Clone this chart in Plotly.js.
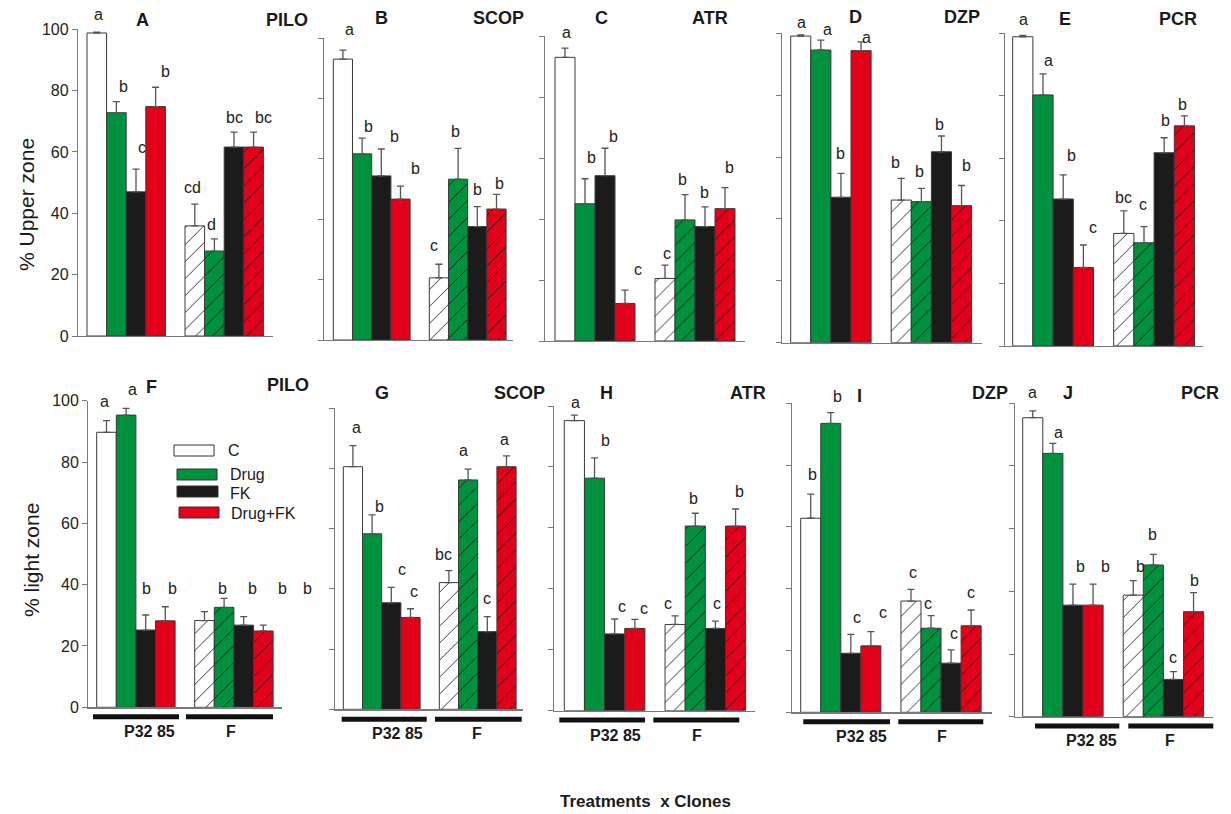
<!DOCTYPE html>
<html><head><meta charset="utf-8">
<script src="https://cdn.plot.ly/plotly-3.0.1.min.js"></script>
<style>html,body{margin:0;padding:0;background:#fff}#chart{width:1231px;height:814px}</style>
</head><body><div id="chart"></div>
<script>
// ================= DATA =================
const treatments = ['C', 'Drug', 'FK', 'Drug+FK'];
const clones = ['P32 85', 'F'];
const drugs = ['PILO', 'SCOP', 'ATR', 'DZP', 'PCR'];
const upperLabels = ['A', 'B', 'C', 'D', 'E'];
const lightLabels = ['F', 'G', 'H', 'I', 'J'];
const yTickVals = [0, 20, 40, 60, 80, 100];
const upperTitle = '% Upper zone';
const lightTitle = '% light zone';
const xTitle = 'Treatments  x Clones';

// order of each array: P32 85 (C, Drug, FK, Drug+FK), then F (C, Drug, FK, Drug+FK)
// % Upper zone
const upperPILO_mean = [98.8, 72.8, 47.0, 74.8, 35.9, 27.7, 61.6, 61.6];
const upperPILO_err  = [0.3, 3.6, 7.4, 6.3, 7.1, 4.0, 4.9, 4.9];
const upperPILO_sig  = ['a', 'b', 'c', 'b', 'cd', 'd', 'bc', 'bc'];
const upperSCOP_mean = [93.1, 61.7, 54.4, 46.7, 20.6, 53.3, 37.6, 43.4];
const upperSCOP_err  = [3.0, 5.2, 8.9, 4.3, 4.5, 10.2, 6.6, 4.9];
const upperSCOP_sig  = ['a', 'b', 'b', 'b', 'c', 'b', 'b', 'b'];
const upperATR_mean  = [93.0, 45.0, 54.2, 12.3, 20.5, 39.7, 37.5, 43.4];
const upperATR_err   = [3.0, 8.2, 9.0, 4.4, 4.4, 8.3, 6.5, 6.9];
const upperATR_sig   = ['a', 'b', 'b', 'c', 'c', 'b', 'b', 'b'];
const upperDZP_mean  = [99.1, 94.6, 47.0, 94.4, 46.1, 45.6, 61.7, 44.3];
const upperDZP_err   = [0.4, 3.2, 7.7, 2.8, 7.0, 4.3, 5.1, 6.5];
const upperDZP_sig   = ['a', 'a', 'b', 'a', 'b', 'b', 'b', 'b'];
const upperPCR_mean  = [98.9, 80.3, 47.0, 25.1, 36.0, 33.0, 61.8, 70.4];
const upperPCR_err   = [0.4, 6.7, 7.7, 7.2, 7.2, 5.2, 4.8, 3.2];
const upperPCR_sig   = ['a', 'a', 'b', 'c', 'bc', 'c', 'b', 'b'];
// % light zone
const lightPILO_mean = [89.7, 95.3, 25.2, 28.2, 28.3, 32.6, 26.8, 24.9];
const lightPILO_err  = [3.8, 2.2, 4.9, 4.6, 2.9, 2.9, 2.8, 1.9];
const lightPILO_sig  = ['a', 'a', 'b', 'b', 'b', 'b', 'b', 'b'];
const lightSCOP_mean = [80.6, 58.3, 35.4, 30.5, 42.1, 76.2, 25.8, 80.6];
const lightSCOP_err  = [7.0, 6.3, 5.1, 2.9, 4.0, 3.6, 5.0, 3.6];
const lightSCOP_sig  = ['a', 'b', 'c', 'c', 'bc', 'a', 'c', 'a'];
const lightATR_mean  = [95.2, 76.3, 25.2, 27.0, 28.3, 60.6, 27.0, 60.6];
const lightATR_err   = [1.8, 6.7, 4.9, 3.0, 2.8, 4.2, 2.4, 5.6];
const lightATR_sig   = ['a', 'b', 'c', 'c', 'c', 'b', 'c', 'b'];
const lightDZP_mean  = [62.8, 93.5, 19.1, 21.5, 36.0, 27.2, 15.9, 28.0];
const lightDZP_err   = [7.8, 3.5, 6.1, 4.6, 3.8, 4.1, 4.3, 5.1];
const lightDZP_sig   = ['b', 'b', 'c', 'c', 'c', 'c', 'c', 'c'];
const lightPCR_mean  = [95.4, 84.0, 35.6, 35.6, 38.8, 48.4, 11.9, 33.5];
const lightPCR_err   = [2.2, 3.2, 6.7, 6.7, 4.6, 3.4, 2.5, 6.1];
const lightPCR_sig   = ['a', 'a', 'b', 'b', 'b', 'b', 'c', 'b'];

// ================= STYLE / PLACEMENT =================
const W = 1231, H = 814;
const FONT = 'Liberation Sans, Arial, Helvetica, sans-serif';
const treatColors = ['#ffffff', '#00913f', '#1b1b1b', '#e2001a'];
const treatHatchVisible = [true, true, false, true];   // hatch invisible on black bars
const clonePattern = ['', '/'];
const hatchColor = '#141414';

// panel geometry in page pixels: y axis x, x axis end, first bar left edge, bar width, y(0), y(100)
const geom = [
  {axL: 78,    axR: 273,    barL: 87,     barW: 19.6,  y0: 336,   y100: 29.3},
  {axL: 324.3, axR: 513.3,  barL: 333.3,  barW: 19.2,  y0: 340,   y100: 38.3},
  {axL: 545,   axR: 745,    barL: 555,    barW: 20,    y0: 341,   y100: 36},
  {axL: 781.7, axR: 981.7,  barL: 790.7,  barW: 20.1,  y0: 342.7, y100: 33.3},
  {axL: 1005,  axR: 1203,   barL: 1012.7, barW: 20.2,  y0: 346,   y100: 33.3},
  {axL: 88.3,  axR: 281.7,  barL: 96.7,   barW: 19.6,  y0: 707.3, y100: 400.7},
  {axL: 335,   axR: 523.3,  barL: 343.3,  barW: 19.2,  y0: 709.3, y100: 408.3},
  {axL: 554.3, axR: 755,    barL: 564.3,  barW: 20.15, y0: 710.7, y100: 406},
  {axL: 791.7, axR: 991.7,  barL: 800.7,  barW: 20.05, y0: 712.3, y100: 403.3},
  {axL: 1015,  axR: 1213.3, barL: 1022.7, barW: 20.1,  y0: 716.7, y100: 403.3}
];
// significance-letter placements (bar-slot units, value units)
const sigPos = [
  [[0.11,104.7],[1.34,81.2],[2.31,61.3],[3.48,86.4],[4.86,48.3],[5.83,36.2],[7.05,71.1],[8.53,71.1]],
  [[0.33,103.0],[1.32,70.7],[2.68,67.4],[3.79,56.9],[4.76,31.2],[5.89,69.0],[7.02,50.0],[8.18,51.9]],
  [[0.09,101.1],[1.34,60.1],[2.42,67.0],[3.67,23.3],[5.09,28.8],[5.89,53.0],[6.97,48.8],[8.2,56.8]],
  [[0.05,103.4],[1.34,101.3],[2.0,61.2],[3.28,98.7],[4.69,58.2],[5.93,55.3],[6.89,70.6],[8.26,57.4]],
  [[0.02,104.5],[1.26,91.2],[2.42,60.8],[3.49,38.0],[4.98,47.4],[5.97,45.1],[7.04,72.0],[7.92,77.3]],
  [[-0.08,99.7],[1.32,103.5],[2.05,38.9],[3.36,38.9],[5.93,38.9],[7.47,38.9],[8.99,38.9],[10.24,38.9]],
  [[0.2,93.7],[1.41,67.3],[2.54,46.3],[3.2,39.3],[4.71,51.3],[5.75,86.1],[6.97,36.9],[7.92,89.5]],
  [[0.08,101.1],[1.52,88.6],[2.35,34.1],[3.47,33.6],[4.63,35.2],[5.9,69.7],[7.06,35.2],[8.17,71.9]],
  [[0.1,77.1],[1.35,102.1],[2.32,30.7],[3.59,32.2],[5.09,45.2],[5.86,35.3],[7.15,25.6],[8.0,38.7]],
  [[-0.02,103.4],[1.27,90.6],[2.4,47.9],[3.64,47.9],[5.34,47.9],[5.95,58.2],[6.99,18.8],[8.04,43.6]]
];
// panel letter and drug-name placements
const labelPos = [
  [[2.31,103.0],[9.7,103.0]],
  [[2.02,106.6],[8.09,106.6]],
  [[1.84,105.9],[7.25,105.9]],
  [[2.7,105.2],[8.0,105.2]],
  [[2.09,104.5],[7.7,104.5]],
  [[2.31,104.6],[9.26,105.1]],
  [[1.5,105.0],[8.7,105.0]],
  [[1.6,104.4],[8.63,104.4]],
  [[2.42,102.4],[8.94,103.4]],
  [[1.77,103.4],[8.32,103.4]]
];
// clone underline bars and labels for bottom panels (page px)
const cloneBars = [
  [[93,179,716.7],[186,273,716.7]],
  [[341.7,426.7,719.3],[435,521.7,719.3]],
  [[559.3,645,720],[653.3,739.3,720]],
  [[803.3,890,721.7],[898.3,983.3,721.7]],
  [[1035,1119.3,726],[1128.3,1213.3,726]]
];
const cloneText = [
  [[149.8,731],[230.8,731]],
  [[397.7,733.3],[476.7,733.3]],
  [[615,735],[696.7,735]],
  [[861.7,736.7],[941.7,736.7]],
  [[1091.7,740],[1170,740]]
];
const legendBoxes = [[174,214,445,456],[177,217,469,480],[177,218,486,497],[179,219,507,518]];
const legendText = [[226,450.5],[227.7,474],[228.3,493.3],[229.3,513.3]];

// ================= BUILD =================
const means = [upperPILO_mean, upperSCOP_mean, upperATR_mean, upperDZP_mean, upperPCR_mean,
               lightPILO_mean, lightSCOP_mean, lightATR_mean, lightDZP_mean, lightPCR_mean];
const errs  = [upperPILO_err, upperSCOP_err, upperATR_err, upperDZP_err, upperPCR_err,
               lightPILO_err, lightSCOP_err, lightATR_err, lightDZP_err, lightPCR_err];
const sigs  = [upperPILO_sig, upperSCOP_sig, upperATR_sig, upperDZP_sig, upperPCR_sig,
               lightPILO_sig, lightSCOP_sig, lightATR_sig, lightDZP_sig, lightPCR_sig];
const panelLetters = upperLabels.concat(lightLabels);
const panelDrugs = drugs.concat(drugs);

const px2paper = (x, y) => [x / W, 1 - y / H];
function dataToPaper(g, xd, yd) {
  const px = g.barL + (xd + 0.5) * g.barW;
  const py = g.y0 - yd * (g.y0 - g.y100) / 100;
  return px2paper(px, py);
}

const traces = [];
const layout = {
  width: W, height: H, margin: {l: 0, r: 0, t: 0, b: 0},
  paper_bgcolor: '#fff', plot_bgcolor: 'rgba(0,0,0,0)',
  showlegend: false, barmode: 'overlay', bargap: 0,
  font: {family: FONT, color: '#1a1a1a'},
  annotations: [], shapes: []
};

for (let p = 0; p < 10; p++) {
  const s = p === 0 ? '' : String(p + 1);
  const g = geom[p];
  const nT = treatments.length;
  treatments.forEach((t, ti) => {
    const xs = [], ys = [], es = [], zeros = [], pats = [];
    clones.forEach((c, ci) => {
      xs.push(ci * (nT + 1) + ti);
      ys.push(means[p][ci * nT + ti]);
      es.push(errs[p][ci * nT + ti]);
      zeros.push(0);
      pats.push(treatHatchVisible[ti] ? clonePattern[ci] : '');
    });
    traces.push({
      type: 'bar', name: t, x: xs, y: ys, width: 1,
      xaxis: 'x' + s, yaxis: 'y' + s, hoverinfo: 'skip',
      marker: {color: treatColors[ti], line: {color: '#3a3a3a', width: 1},
        pattern: {shape: pats, fgcolor: hatchColor, fgopacity: 1,
          size: 12, solidity: 0.07, fillmode: 'overlay'}},
      error_y: {type: 'data', symmetric: false, array: es, arrayminus: zeros,
        color: '#555', thickness: 1.3, width: 3.5}
    });
  });
  const xmin = -0.5 - (g.barL - g.axL) / g.barW;
  const xmax = xmin + (g.axR - g.axL) / g.barW;
  layout['xaxis' + s] = {domain: [g.axL / W, g.axR / W], range: [xmin, xmax], anchor: 'y' + s,
    showline: true, linecolor: '#7a7a7a', linewidth: 1.2, showticklabels: false, ticks: '',
    showgrid: false, zeroline: false, fixedrange: true};
  layout['yaxis' + s] = {domain: [1 - g.y0 / H, 1 - g.y100 / H], range: [0, 100], anchor: 'x' + s,
    showline: true, linecolor: '#7a7a7a', linewidth: 1.2, ticks: 'outside', ticklen: 5,
    tickwidth: 1, tickcolor: '#7a7a7a', tickvals: yTickVals,
    showticklabels: (p === 0 || p === 5), tickfont: {size: 16, family: FONT, color: '#222'},
    showgrid: false, zeroline: false, fixedrange: true};

  // significance letters
  sigs[p].forEach((txt, i) => {
    const [xp, yp] = dataToPaper(g, sigPos[p][i][0], sigPos[p][i][1]);
    layout.annotations.push({xref: 'paper', yref: 'paper', x: xp, y: yp, text: txt,
      showarrow: false, xanchor: 'center', yanchor: 'middle', font: {size: 16, color: '#222', family: FONT}});
  });
  // panel letter + drug
  [panelLetters[p], panelDrugs[p]].forEach((txt, i) => {
    const [xp, yp] = dataToPaper(g, labelPos[p][i][0], labelPos[p][i][1]);
    layout.annotations.push({xref: 'paper', yref: 'paper', x: xp, y: yp, text: '<b>' + txt + '</b>',
      showarrow: false, xanchor: 'center', yanchor: 'middle', font: {size: 18, color: '#1a1a1a', family: FONT}});
  });
}

// clone underline bars and labels
cloneBars.forEach((bars, k) => {
  bars.forEach((b, ci) => {
    const [x0, y0] = px2paper(b[0], b[2]);
    const [x1] = px2paper(b[1], b[2]);
    layout.shapes.push({type: 'line', xref: 'paper', yref: 'paper', x0: x0, x1: x1, y0: y0, y1: y0,
      line: {color: '#111', width: 5}});
    const [tx, ty] = px2paper(cloneText[k][ci][0], cloneText[k][ci][1]);
    layout.annotations.push({xref: 'paper', yref: 'paper', x: tx, y: ty, text: '<b>' + clones[ci] + '</b>',
      showarrow: false, xanchor: 'center', yanchor: 'middle', font: {size: 16, color: '#1a1a1a', family: FONT}});
  });
});

// legend
treatments.forEach((t, i) => {
  const b = legendBoxes[i];
  const [x0, y0] = px2paper(b[0], b[2]);
  const [x1, y1] = px2paper(b[1], b[3]);
  layout.shapes.push({type: 'rect', xref: 'paper', yref: 'paper', x0: x0, x1: x1, y0: y1, y1: y0,
    fillcolor: treatColors[i], line: {color: '#333', width: 1}});
  const [tx, ty] = px2paper(legendText[i][0], legendText[i][1]);
  layout.annotations.push({xref: 'paper', yref: 'paper', x: tx, y: ty, text: t,
    showarrow: false, xanchor: 'left', yanchor: 'middle', font: {size: 16, color: '#1a1a1a', family: FONT}});
});

// axis titles
[[upperTitle, 26, 205], [lightTitle, 31, 560]].forEach(([t, x, y]) => {
  const [xp, yp] = px2paper(x, y);
  layout.annotations.push({xref: 'paper', yref: 'paper', x: xp, y: yp, text: t, textangle: -90,
    showarrow: false, xanchor: 'center', yanchor: 'middle', font: {size: 21, color: '#1a1a1a', family: FONT}});
});
{
  const [xp, yp] = px2paper(645, 801);
  layout.annotations.push({xref: 'paper', yref: 'paper', x: xp, y: yp, text: '<b>' + xTitle.replace(/  /g, ' &nbsp;') + '</b>',
    showarrow: false, xanchor: 'center', yanchor: 'middle', font: {size: 17, color: '#1a1a1a', family: FONT}});
}

Plotly.newPlot('chart', traces, layout, {displayModeBar: false, staticPlot: true});
</script>
</body></html>
